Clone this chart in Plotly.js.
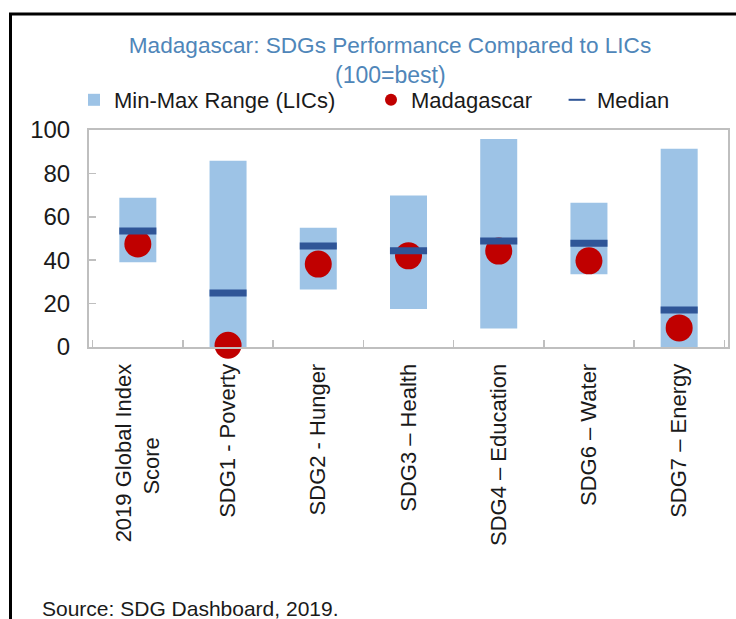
<!DOCTYPE html>
<html>
<head>
<meta charset="utf-8">
<script src="https://cdn.plot.ly/plotly-3.0.1.min.js"></script>
<style>html,body{margin:0;padding:0;background:#fff;}#chart{width:736px;height:619px;}</style>
</head>
<body>
<div id="chart"></div>
<script>
var categories = ["2019 Global Index<br>Score", "SDG1 - Poverty", "SDG2 - Hunger", "SDG3 – Health", "SDG4 – Education", "SDG6 – Water", "SDG7 – Energy"];
var tickLabels = ["2019 Global Index<br>Score&#160;&#160;&#160;&#160;&#160;&#160;&#160;&#160;&#160;&#160;&#160;&#160;", "SDG1 - Poverty", "SDG2 - Hunger", "SDG3 – Health", "SDG4 – Education", "SDG6 – Water", "SDG7 – Energy"];
var minVals = [39, 0, 26.5, 17.5, 8.5, 33.5, 0];
var maxVals = [68.8, 85.8, 55, 69.8, 95.8, 66.5, 91.4];
var medianVals = [53.4, 24.9, 46.6, 44.3, 48.9, 47.8, 17.1];
var madagascarVals = [47.5, 0.8, 38.2, 42, 44.2, 39.7, 8.8];
var yTicks = [0, 20, 40, 60, 80, 100];

var sans = "Liberation Sans, Arial, sans-serif";

var rangeTrace = {
  type: "bar", name: "Min-Max Range (LICs)", x: categories,
  y: maxVals.map(function (v, i) { return v - minVals[i]; }),
  base: minVals, width: 0.41,
  marker: {color: "#9dc3e6"}, legend: "legend", hoverinfo: "skip"
};
var madTrace = {
  type: "scatter", mode: "markers", name: "Madagascar", x: categories, y: madagascarVals,
  marker: {color: "#c00000", size: 27}, cliponaxis: false, legend: "legend2"
};
var medTrace = {
  type: "scatter", mode: "markers", name: "Median", x: categories, y: medianVals,
  marker: {symbol: "line-ew", size: 26.5, line: {width: 7, color: "#2f5597"}}, cliponaxis: false, legend: "legend3"
};

function px(x) { return (x - 89) / 639; }
function py(y) { return (347 - y) / 217; }

var legendBase = {orientation: "h", xanchor: "left", yanchor: "middle", bgcolor: "rgba(0,0,0,0)",
  font: {family: sans, size: 22, color: "#1a1a1a"}, itemwidth: 30, itemsizing: "constant"};

var layout = {
  width: 736, height: 619,
  margin: {l: 89, r: 8, t: 130, b: 272},
  paper_bgcolor: "#ffffff", plot_bgcolor: "#ffffff",
  title: {
    text: "Madagascar: SDGs Performance Compared to LICs",
    font: {family: sans, size: 22.6, color: "#4f86b9"},
    xref: "container", x: 390 / 736, xanchor: "center",
    yref: "container", y: 1 - 45 / 619, yanchor: "middle"
  },
  showlegend: true,
  legend: Object.assign({}, legendBase, {x: px(74), y: py(100)}),
  legend2: Object.assign({}, legendBase, {x: px(371), y: py(100)}),
  legend3: Object.assign({}, legendBase, {x: px(557), y: py(100)}),
  xaxis: {
    type: "category", categoryarray: categories, tickmode: "array", tickvals: categories, ticktext: tickLabels,
    showline: true, mirror: true, linecolor: "#bfbfbf", linewidth: 2,
    ticks: "inside", tickson: "boundaries", ticklen: 7, tickcolor: "#bfbfbf", tickwidth: 1.5,
    tickangle: -90, tickfont: {family: sans, size: 22, color: "#1a1a1a"},
    showgrid: false, zeroline: false, ticklabelstandoff: 6
  },
  yaxis: {
    range: [0, 100], tickvals: yTicks, showline: true, mirror: true, linecolor: "#bfbfbf", linewidth: 2,
    ticks: "inside", ticklen: 7, tickcolor: "#bfbfbf", tickwidth: 1.5,
    tickfont: {family: sans, size: 24, color: "#1a1a1a"},
    showgrid: false, zeroline: false, ticklabelstandoff: 12
  },
  annotations: [
    {text: "(100=best)", xref: "paper", yref: "paper", x: px(390), y: py(75), xanchor: "center", yanchor: "middle",
     showarrow: false, font: {family: sans, size: 23, color: "#4f86b9"}},
    {text: "Source: SDG Dashboard, 2019.", xref: "paper", yref: "paper", x: px(40), y: py(608), xanchor: "left", yanchor: "middle",
     showarrow: false, font: {family: sans, size: 21, color: "#1a1a1a"}}
  ],
  shapes: [
    {type: "line", xref: "paper", yref: "paper", x0: px(10.5), x1: px(10.5), y0: py(14), y1: py(640), line: {color: "#000", width: 3}},
    {type: "line", xref: "paper", yref: "paper", x0: px(9), x1: px(760), y0: py(14), y1: py(14), line: {color: "#000", width: 3}}
  ]
};

Plotly.newPlot("chart", [rangeTrace, madTrace, medTrace], layout, {displayModeBar: false, staticPlot: true});
</script>
</body>
</html>
